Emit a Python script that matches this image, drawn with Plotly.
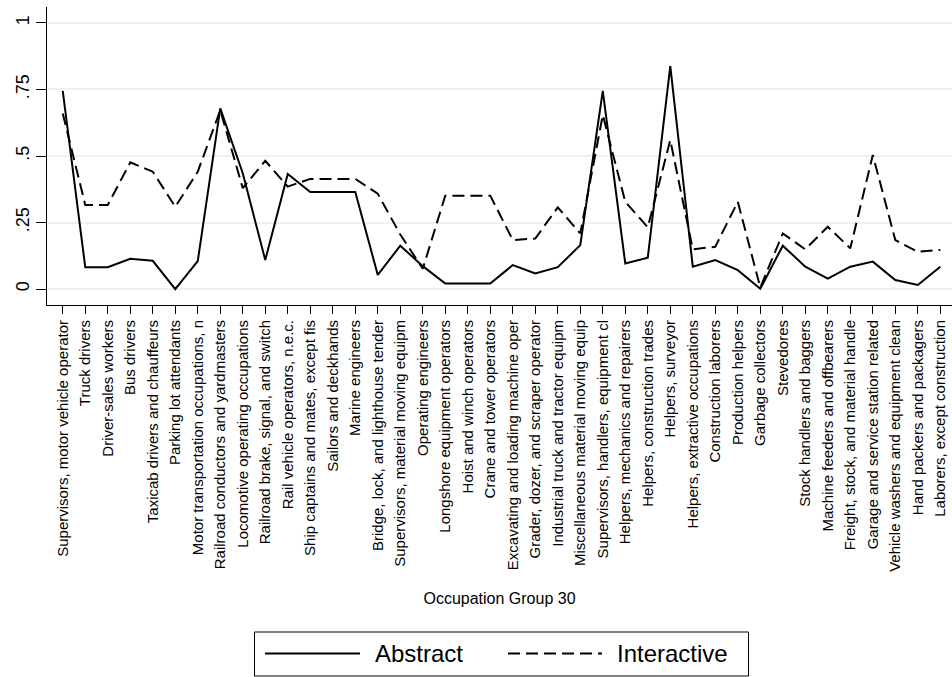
import plotly.graph_objects as go

categories = [
    "Supervisors, motor vehicle operator", "Truck drivers", "Driver-sales workers",
    "Bus drivers", "Taxicab drivers and chauffeurs", "Parking lot attendants",
    "Motor transportation occupations, n", "Railroad conductors and yardmasters",
    "Locomotive operating occupations", "Railroad brake, signal, and switch",
    "Rail vehicle operators, n.e.c.", "Ship captains and mates, except fis",
    "Sailors and deckhands", "Marine engineers", "Bridge, lock, and lighthouse tender",
    "Supervisors, material moving equipm", "Operating engineers",
    "Longshore equipment operators", "Hoist and winch operators",
    "Crane and tower operators", "Excavating and loading machine oper",
    "Grader, dozer, and scraper operator", "Industrial truck and tractor equipm",
    "Miscellaneous material moving equip", "Supervisors, handlers, equipment cl",
    "Helpers, mechanics and repairers", "Helpers, construction trades",
    "Helpers, surveyor", "Helpers, extractive occupations", "Construction laborers",
    "Production helpers", "Garbage collectors", "Stevedores",
    "Stock handlers and baggers", "Machine feeders and offbearers",
    "Freight, stock, and material handle", "Garage and service station related",
    "Vehicle washers and equipment clean", "Hand packers and packagers",
    "Laborers, except construction",
]

abstract = [
    0.745, 0.082, 0.082, 0.114, 0.106, 0.0, 0.105, 0.679, 0.435, 0.109,
    0.432, 0.365, 0.365, 0.365, 0.053, 0.163, 0.086, 0.021, 0.021, 0.021,
    0.090, 0.059, 0.082, 0.165, 0.745, 0.096, 0.118, 0.838, 0.084, 0.109,
    0.071, 0.001, 0.163, 0.084, 0.039, 0.084, 0.103, 0.034, 0.015, 0.084,
]

interactive = [
    0.660, 0.316, 0.316, 0.476, 0.441, 0.309, 0.441, 0.672, 0.379, 0.482,
    0.385, 0.414, 0.414, 0.414, 0.358, 0.205, 0.076, 0.351, 0.351, 0.351,
    0.184, 0.190, 0.307, 0.209, 0.654, 0.328, 0.232, 0.560, 0.149, 0.159,
    0.328, 0.006, 0.209, 0.149, 0.234, 0.153, 0.504, 0.184, 0.140, 0.147,
]

series_names = ["Abstract", "Interactive"]

y_tickvals = [0, 0.25, 0.5, 0.75, 1]
y_ticktext = ["0", ".25", ".5", ".75", "1"]

FONT = "Liberation Sans, Arial, sans-serif"
DASH = "12px,6px"

# plot-area geometry (pixels)
W, H = 952, 677
ML, MR, MT, MB = 47, 0, 7, 372
PW, PH = W - ML - MR, H - MT - MB


def px_x(px):
    return (px - ML) / PW


def px_y(py):
    return (H - MB - py) / PH


fig = go.Figure()
fig.add_trace(go.Scatter(
    x=categories, y=abstract, mode="lines", name=series_names[0],
    line=dict(color="black", width=2), showlegend=False,
))
fig.add_trace(go.Scatter(
    x=categories, y=interactive, mode="lines", name=series_names[1],
    line=dict(color="black", width=2, dash=DASH), showlegend=False,
))

# legend box drawn like the original (Stata-style)
shapes = [
    dict(type="rect", xref="paper", yref="paper",
         x0=px_x(254.5), x1=px_x(748.5), y0=px_y(676), y1=px_y(632),
         line=dict(color="black", width=1), fillcolor="white"),
    dict(type="line", xref="paper", yref="paper",
         x0=px_x(265), x1=px_x(360), y0=px_y(653.5), y1=px_y(653.5),
         line=dict(color="black", width=2)),
    dict(type="line", xref="paper", yref="paper",
         x0=px_x(508), x1=px_x(602), y0=px_y(653.5), y1=px_y(653.5),
         line=dict(color="black", width=2, dash=DASH)),
]
annotations = [
    dict(text=series_names[0], xref="paper", yref="paper", x=px_x(373), y=px_y(653),
         xanchor="left", yanchor="middle", showarrow=False,
         font=dict(size=24, family=FONT, color="black")),
    dict(text=series_names[1], xref="paper", yref="paper", x=px_x(615), y=px_y(653),
         xanchor="left", yanchor="middle", showarrow=False,
         font=dict(size=24, family=FONT, color="black")),
]

fig.update_layout(
    width=W, height=H, autosize=False,
    margin=dict(l=ML, r=MR, t=MT, b=MB, pad=0),
    plot_bgcolor="white", paper_bgcolor="white",
    font=dict(family=FONT, color="black"),
    showlegend=False,
    hovermode=False,
    shapes=shapes,
    annotations=annotations,
    xaxis=dict(
        type="category", categoryorder="array", categoryarray=categories,
        range=[-0.7, 39.52], tickangle=-90, ticks="outside", ticklen=8,
        tickcolor="black", showline=True, linecolor="black", linewidth=1,
        showgrid=False, zeroline=False, automargin=False,
        tickfont=dict(size=15, family=FONT),
        title=dict(text="Occupation Group 30", font=dict(size=16, family=FONT), standoff=21),
    ),
    yaxis=dict(
        range=[-0.06, 1.06], tickvals=y_tickvals, ticktext=y_ticktext,
        tickangle=-90, ticks="outside", ticklen=10, tickcolor="black",
        showline=True, linecolor="black", linewidth=1,
        showgrid=True, gridcolor="#eaf2f3", gridwidth=1.5, zeroline=False,
        automargin=False, tickfont=dict(size=18, family=FONT),
    ),
)

fig.write_html(
    "out.html",
    config={"displayModeBar": False},
    post_script="document.body.style.margin='0px';",
)
